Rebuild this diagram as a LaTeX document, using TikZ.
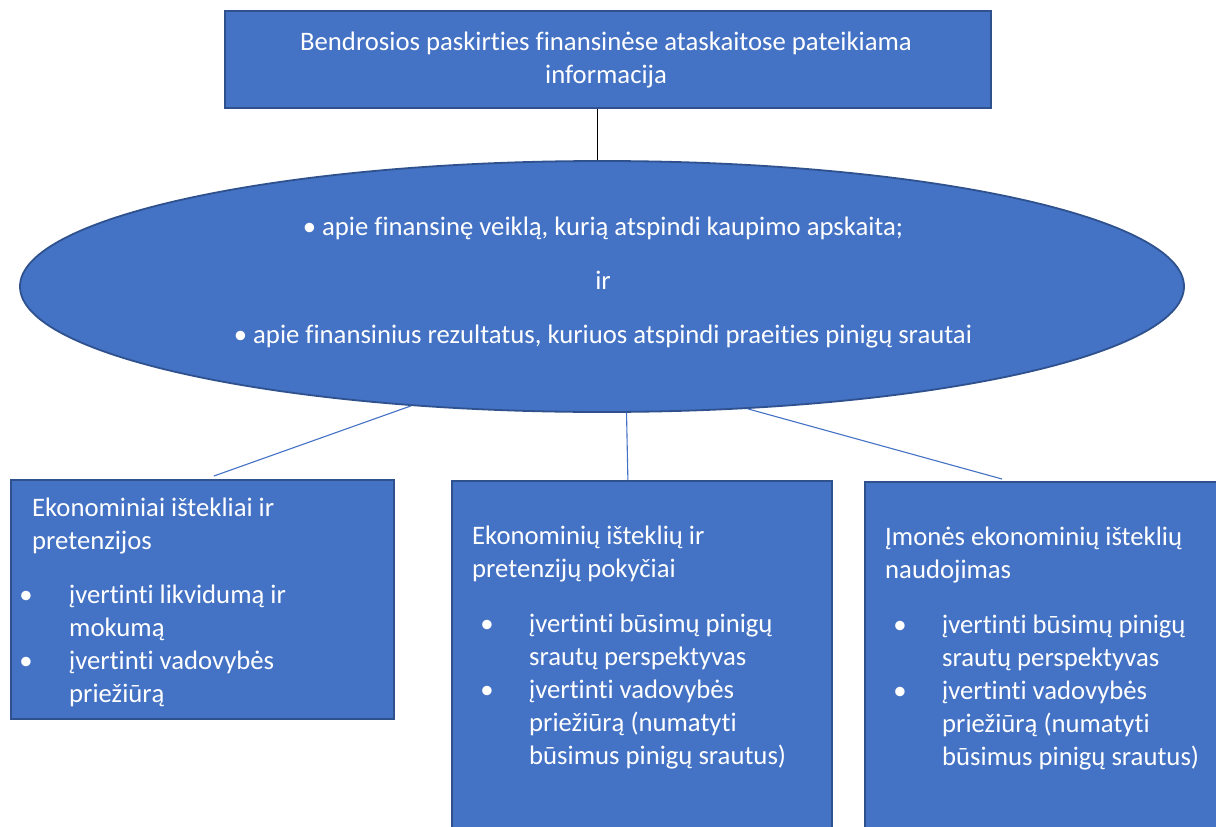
\documentclass[tikz,border=0pt]{standalone}
\usepackage{fontspec}
\setmainfont{Carlito}[Ligatures=NoCommon]
\usetikzlibrary{shapes.geometric}
\definecolor{fillblue}{HTML}{4472C4}
\definecolor{edgeblue}{HTML}{2F528F}
\tikzset{
  box/.style={rectangle, draw=edgeblue, line width=1.8pt, fill=fillblue, inner sep=0pt, anchor=north west},
  txt/.style={text=white, inner sep=0pt, font=\fontsize{26.7}{33}\selectfont, align=left, anchor=north west},
  ctxt/.style={text=white, inner sep=0pt, font=\fontsize{26.7}{33}\selectfont, align=center, anchor=north},
  conn/.style={draw=fillblue, line width=1.1pt},
}
\begin{document}
\begin{tikzpicture}[x=1pt,y=-1pt]
\useasboundingbox (0,0) rectangle (1216,827);
\clip (0,0) rectangle (1216,827);
\fill[white] (0,0) rectangle (1216,827);
% top box
\node[box, minimum width=766pt, minimum height=97pt] (tbox) at (224,10) {};
\node[ctxt] (ttext) at (606,26.9) {\strut Bendrosios paskirties finansinėse ataskaitose pateikiama\\informacija};
% ellipse
\node[ellipse, draw=edgeblue, fill=fillblue, line width=1.8pt, minimum width=1164pt, minimum height=251pt, inner sep=0pt] (ell) at (602,286.5) {};
\node[ctxt, font=\fontsize{26.7}{54}\selectfont] (etext) at (603,197.2) {\strut • apie finansinę veiklą, kurią atspindi kaupimo apskaita;\\ir\\• apie finansinius rezultatus, kuriuos atspindi praeities pinigų srautai};
% connector top
\draw[black, line width=1pt] ([xshift=-10pt]tbox.south) -- ([xshift=-10pt]tbox.south |- ell.north);
% boxes
\node[box, minimum width=383pt, minimum height=239pt] (lbox) at (10,479) {};
\node[box, minimum width=380pt, minimum height=400pt] (mbox) at (451,480) {};
\node[box, minimum width=400pt, minimum height=400pt] (rbox) at (864,481) {};
% connectors
\draw[conn] (ell.212) -- ([xshift=11.5pt,yshift=3pt]lbox.north);
\draw[conn] (ell.281) -- ([xshift=-14pt]mbox.north);
\draw[conn] (ell.320.5) -- ([xshift=138pt,yshift=2pt]rbox.north west);
% left box text
\node[txt] (ltitle) at (32,492.9) {\strut Ekonominiai ištekliai ir\\pretenzijos};
\node[ctxt] (lbul) at (26,579.9) {\strut •\\\strut\\•};
\node[txt] (litems) at (69,579.9) {\strut įvertinti likvidumą ir\\mokumą\\įvertinti vadovybės\\priežiūrą};
% middle box text
\node[txt] (mtitle) at (472,520.9) {\strut Ekonominių išteklių ir\\pretenzijų pokyčiai};
\node[ctxt] (mbul) at (487,608.9) {\strut •\\\strut\\•};
\node[txt] (mitems) at (529,608.9) {\strut įvertinti būsimų pinigų\\srautų perspektyvas\\įvertinti vadovybės\\priežiūrą (numatyti\\būsimus pinigų srautus)};
% right box text
\node[txt] (rtitle) at (885,521.9) {\strut Įmonės ekonominių išteklių\\naudojimas};
\node[ctxt] (rbul) at (900,609.9) {\strut •\\\strut\\•};
\node[txt] (ritems) at (942,609.9) {\strut įvertinti būsimų pinigų\\srautų perspektyvas\\įvertinti vadovybės\\priežiūrą (numatyti\\būsimus pinigų srautus)};
\end{tikzpicture}
\end{document}
